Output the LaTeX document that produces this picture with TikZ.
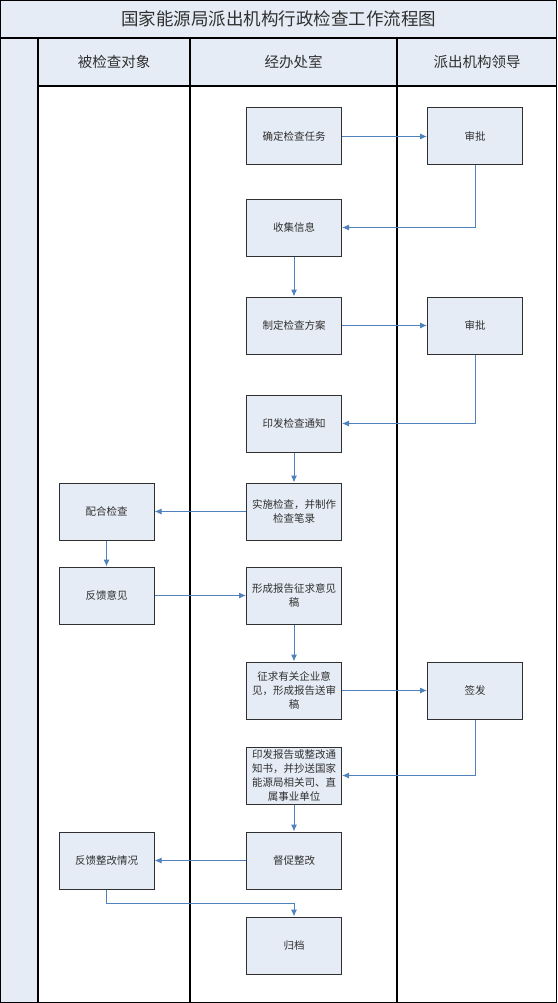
\documentclass[tikz,border=0pt]{standalone}
\usepackage{fontspec}
\setmainfont{Noto Sans CJK SC}
\usetikzlibrary{arrows.meta,positioning}
\definecolor{laneblue}{HTML}{E6ECF6}
\definecolor{flowblue}{HTML}{4F81BD}
\definecolor{inkgray}{HTML}{303030}
\tikzset{
  stepbox/.style={draw=inkgray,fill=laneblue,line width=1pt,
    minimum width=95pt,minimum height=57pt,inner sep=2pt,align=center,
    text=inkgray,font=\fontsize{10.5}{14}\selectfont},
  flow/.style={draw=flowblue,line width=1pt,-{Latex[length=7pt,width=6pt]}},
  lane/.style={draw=black,line width=1.3pt},
  headtext/.style={text=inkgray,font=\fontsize{14.5}{16}\selectfont}
}
\begin{document}
\begin{tikzpicture}[x=1pt,y=-1pt]%
  \path[use as bounding box] (0,0) rectangle (557,1003);
  % bands and lanes
  \fill[laneblue] (0,0) rectangle (557,38);
  \fill[laneblue] (0,38) rectangle (38,1003);
  \fill[laneblue] (38,38) rectangle (557,86);
  \draw[lane] (0.7,0.7) rectangle (556.3,1002.3);
  \draw[lane,line width=2pt] (0,38) -- (557,38);
  \draw[lane] (38,38) -- (38,1003);
  \draw[lane] (190,38) -- (190,1003);
  \draw[lane] (397,38) -- (397,1003);
  \draw[lane] (38,86) -- (557,86);
  \node[text=inkgray,font=\fontsize{17.5}{20}\selectfont] (title) at (278.5,19)
    {国家能源局派出机构行政检查工作流程图};
  \node[headtext] (laneA) at (114,62) {被检查对象};
  \node[headtext] (laneB) at (293.5,62) {经办处室};
  \node[headtext] (laneC) at (477,62) {派出机构领导};
  % steps
  \node[stepbox] (task) at (294,136.5) {确定检查任务};
  \node[stepbox] (approveA) at (475,136.5) {审批};
  \node[stepbox] (collect) at (294,227.5) {收集信息};
  \node[stepbox] (plan) at (294,325.5) {制定检查方案};
  \node[stepbox] (approveB) at (475,325.5) {审批};
  \node[stepbox] (notice) at (294,423.5) {印发检查通知};
  \node[stepbox] (inspect) at (294,511.5) {实施检查，并制作\\检查笔录};
  \node[stepbox] (cooperate) at (106.5,511.5) {配合检查};
  \node[stepbox] (feedback) at (106.5,595.5) {反馈意见};
  \node[stepbox] (draft) at (294,595.5) {形成报告征求意见\\稿};
  \node[stepbox] (consult) at (294,690.5) {征求有关企业意\\见，形成报告送审\\稿};
  \node[stepbox] (sign) at (475,690.5) {签发};
  \node[stepbox,inner sep=1pt] (issue) at (294,775.5)
    {印发报告或整改通\\知书，并抄送国家\\能源局相关司、直\\属事业单位};
  \node[stepbox] (urge) at (294,860.5) {督促整改};
  \node[stepbox] (rectify) at (106.5,860.5) {反馈整改情况};
  \node[stepbox] (archive) at (294,945.5) {归档};
  % connectors
  \draw[flow] (task) -- (approveA);
  \draw[flow] (approveA.south) |- (collect.east);
  \draw[flow] (collect) -- (plan);
  \draw[flow] (plan) -- (approveB);
  \draw[flow] (approveB.south) |- (notice.east);
  \draw[flow] (notice) -- (inspect);
  \draw[flow] (inspect) -- (cooperate);
  \draw[flow] (cooperate) -- (feedback);
  \draw[flow] (feedback) -- (draft);
  \draw[flow] (draft) -- (consult);
  \draw[flow] (consult) -- (sign);
  \draw[flow] (sign.south) |- (issue.east);
  \draw[flow] (issue) -- (urge);
  \draw[flow] (urge) -- (rectify);
  \draw[flow] (rectify.south) -- ++(0,14) -| (archive.north);
\end{tikzpicture}
\end{document}
